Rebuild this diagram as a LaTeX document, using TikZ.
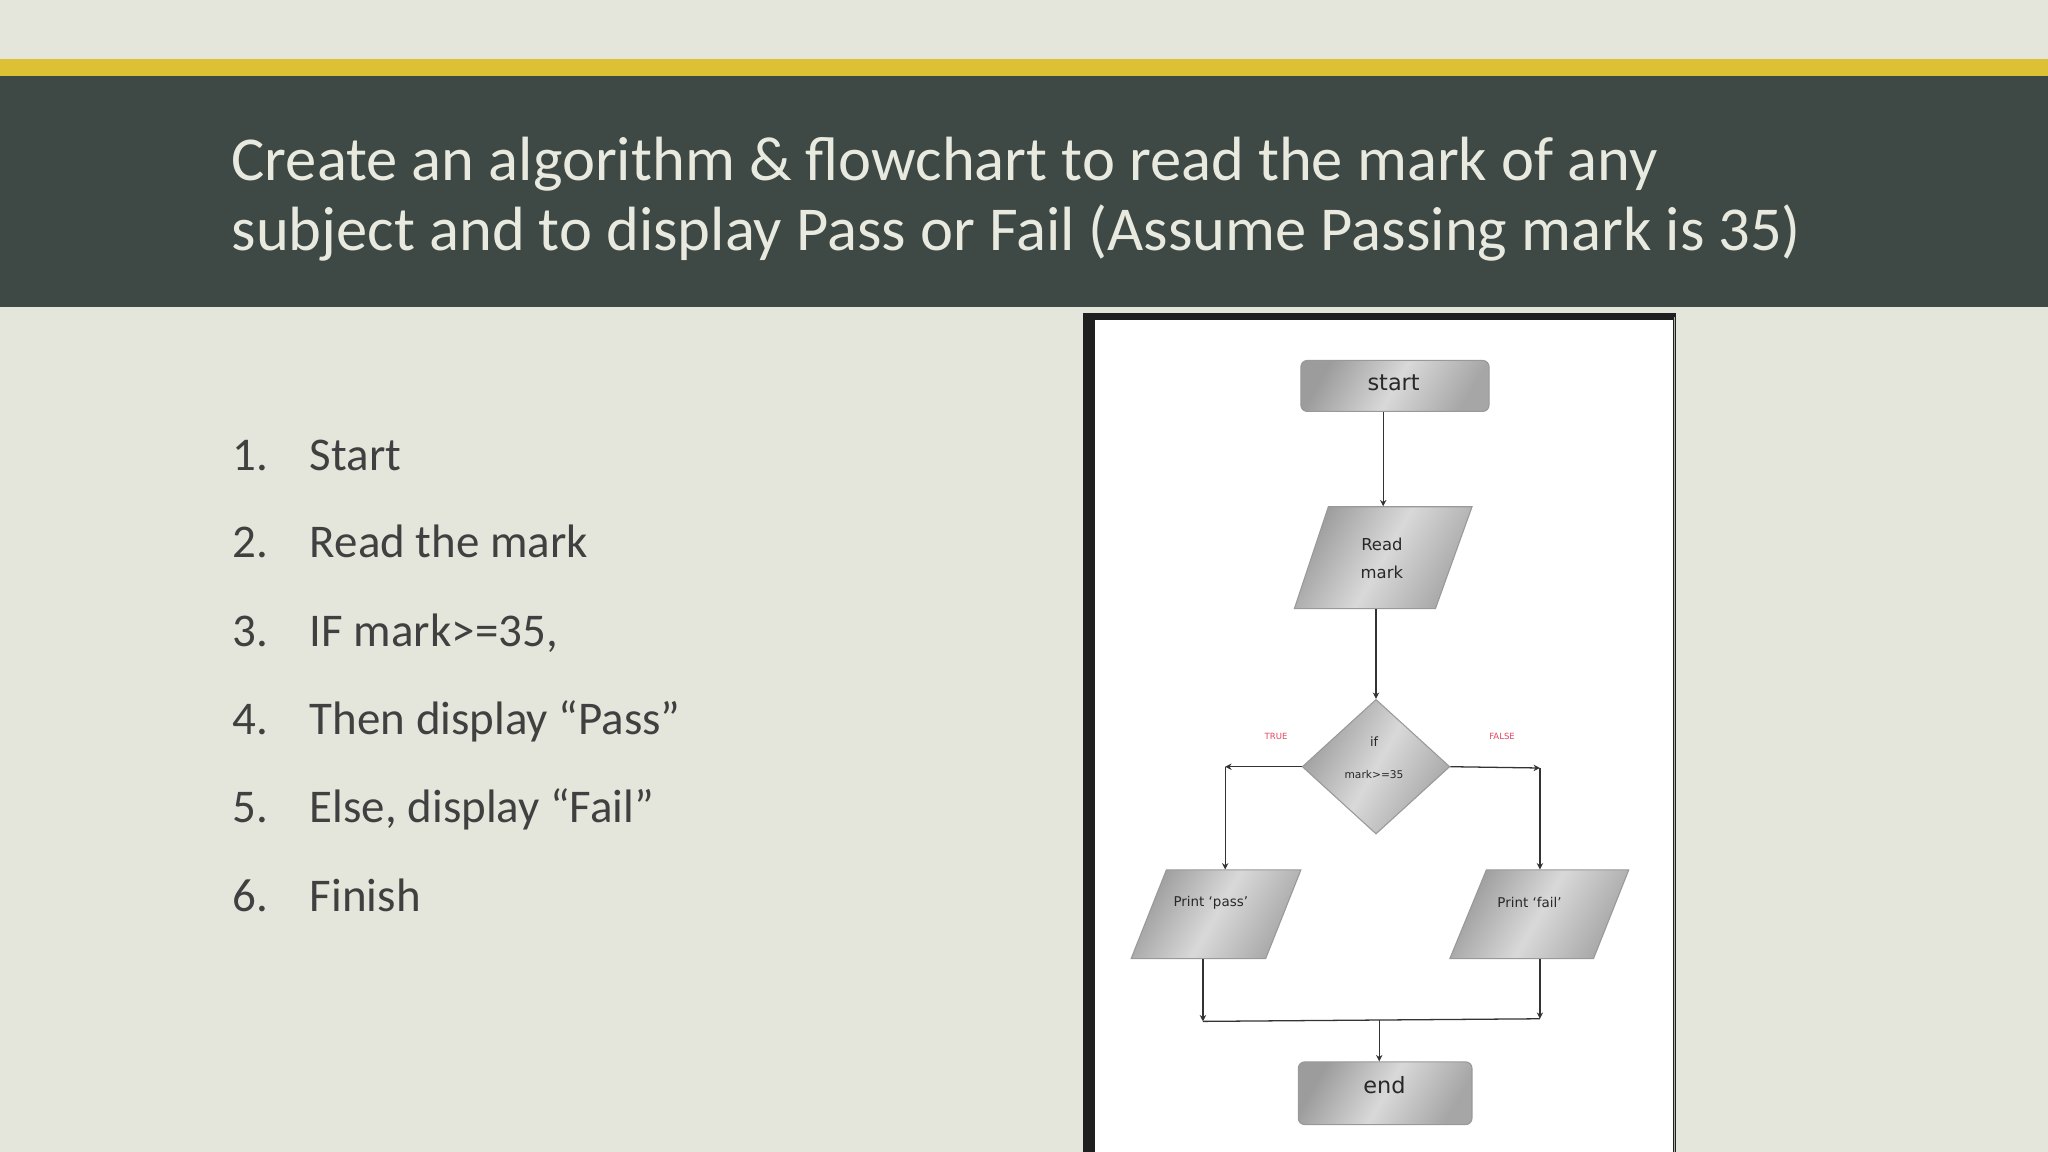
\documentclass[tikz,border=0pt]{standalone}
\usepackage{fontspec}
\setmainfont{Carlito}
\newfontfamily\fcfont{DejaVu Sans}
\usetikzlibrary{shapes.geometric,arrows.meta,calc}
\definecolor{bgc}{RGB}{228,230,220}
\definecolor{band}{RGB}{62,72,68}
\definecolor{goldbar}{RGB}{222,192,52}
\definecolor{txtd}{RGB}{64,64,64}
\definecolor{ttl}{RGB}{232,234,224}
\definecolor{truered}{RGB}{225,70,100}
\definecolor{fctext}{RGB}{40,40,40}
\begin{document}
\begin{tikzpicture}[x=0.6122pt,y=-0.6122pt,
  metal/.style={draw=gray!80, line width=0.5pt, left color=gray!78, right color=gray!70, middle color=gray!30, shading angle=60},
  titletext/.style={anchor=base west, inner sep=0pt, text=ttl, font=\fontsize{29.3}{35}\selectfont},
  listnum/.style={anchor=base west, inner sep=0pt, text=txtd, font=\fontsize{22}{26}\selectfont},
  fclabel/.style={inner sep=0pt, text=fctext},
  conn/.style={draw=black!80, line width=0.6pt},
  arr/.style={conn, -{Stealth[length=3pt,width=3pt]}}
]
% background
\fill[bgc] (0,0) rectangle (1568,882);
\useasboundingbox (0,0) rectangle (1568,882);
\fill[goldbar] (0,45) rectangle (1568,58);
\fill[band] (0,58) rectangle (1568,235);

% title
\node[titletext] (t1) at (177,138) {Create an algorithm \& flowchart to read the mark of any};
\node[titletext] (t2) at (177,192) {subject and to display Pass or Fail (Assume Passing mark is 35)};

% list
\foreach \n/\t/\y in {1/Start/360, 2/Read the mark/427, 3/{IF mark>=35,}/495, 4/{Then display “Pass”}/562, 5/{Else, display “Fail”}/630, 6/Finish/698}{
  \node[listnum] (n\n) at (178,\y) {\n.};
  \node[listnum] (l\n) at (237,\y) {\t};
}

% flowchart frame
\fill[black!88] (829,240) rectangle (1283,882);
\fill[white] (838,245) rectangle (1281,882);
\draw[gray!60, line width=0.6pt] (1282,243) -- (1282,882);

% start / end
\node[metal, rounded corners=3pt, minimum width=88.2pt, minimum height=23.9pt, inner sep=0pt] (start) at (1068,295.5) {};
\node[fclabel, font=\fcfont\fontsize{10.5}{12}\selectfont] (starttxt) at (1067,293) {start};
\node[metal, rounded corners=3pt, minimum width=81.4pt, minimum height=29.4pt, inner sep=0pt] (end) at (1060.5,837) {};
\node[fclabel, font=\fcfont\fontsize{10.5}{12}\selectfont] (endtxt) at (1060,831) {end};

% read mark parallelogram
\path[metal] (1017,388) -- (1127,388) -- (1099,466) -- (991,466) -- cycle;
\node[minimum width=60pt, minimum height=47.8pt, inner sep=0pt] (read) at (1059,427) {};
\node[fclabel, font=\fcfont\fontsize{7.7}{9}\selectfont] (readtxt1) at (1058,417) {Read};
\node[fclabel, font=\fcfont\fontsize{7.7}{9}\selectfont] (readtxt2) at (1058,438) {mark};

% decision diamond
\node[metal, diamond, minimum width=69.2pt, minimum height=63.1pt, inner sep=0pt] (dia) at (1053.5,587) {};
\node[fclabel, font=\fcfont\fontsize{6}{7}\selectfont] (iftxt) at (1052,568) {if};
\node[fclabel, font=\fcfont\fontsize{5}{6}\selectfont] (condtxt) at (1052,593) {mark>=35};
\node[fclabel, text=truered, font=\fcfont\fontsize{4}{5}\selectfont] (truetxt) at (977,564) {TRUE};
\node[fclabel, text=truered, font=\fcfont\fontsize{4}{5}\selectfont] (falsetxt) at (1150,564) {FALSE};

% print pass / fail
\path[metal] (893,666) -- (996,666) -- (969,734) -- (866,734) -- cycle;
\node[minimum width=50pt, minimum height=41.6pt, inner sep=0pt] (pass) at (931.5,700) {};
\node[fclabel, font=\fcfont\fontsize{6.3}{7}\selectfont] (passtxt) at (927,691) {Print ‘pass’};
\path[metal] (1138,666) -- (1247,666) -- (1220,734) -- (1110,734) -- cycle;
\node[minimum width=50pt, minimum height=41.6pt, inner sep=0pt] (fail) at (1178.75,700) {};
\node[fclabel, font=\fcfont\fontsize{6.3}{7}\selectfont] (failtxt) at (1171,691) {Print ‘fail’};

% helper coordinates
\coordinate (tl) at (938,587);
\coordinate (tr) at (1179,588);
\coordinate (bl) at (921,782);
\coordinate (br) at (1179,780);
\coordinate (jn) at (1056,781);

% connectors
\draw[arr] (start.south -| read.north) -- (read.north);
\draw[arr] (read.south -| dia.north) -- (dia.north);
\draw[arr] (dia.west) -- (tl);
\draw[arr] (tl) -- (tl |- pass.north);
\draw[arr] (dia.east) -- (tr);
\draw[arr] (tr) -- (tr |- fail.north);
\draw[arr] (pass.south -| bl) -- (bl);
\draw[arr] (fail.south -| br) -- (br);
\draw[conn] (bl) -- (br);
\draw[arr] (jn) -- (jn |- end.north);
\end{tikzpicture}
\end{document}
